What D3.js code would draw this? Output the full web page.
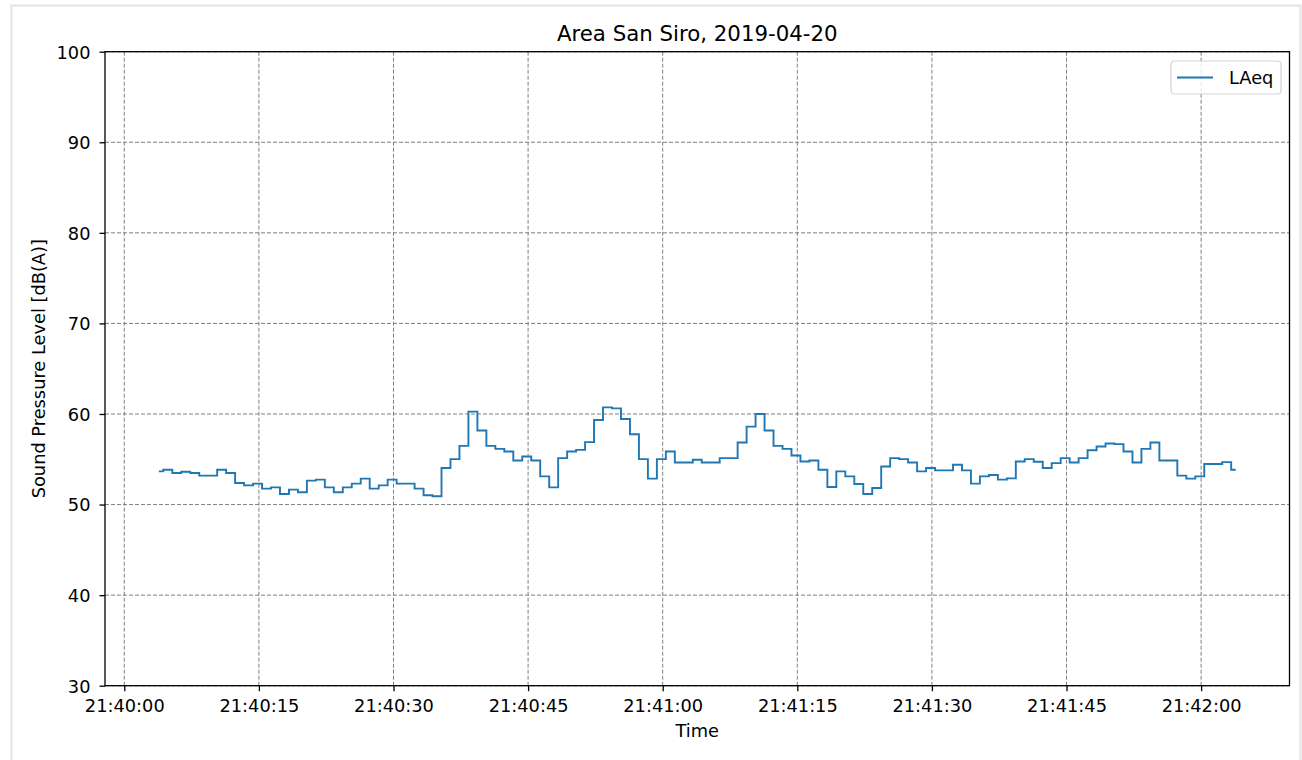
<!DOCTYPE html>
<html>
<head>
<meta charset="utf-8">
<script src="https://cdn.jsdelivr.net/npm/d3@7"></script>
<style>
  html, body { margin: 0; padding: 0; background: #fff; }
  svg { display: block; font-family: "DejaVu Sans", sans-serif; }
</style>
</head>
<body>
<svg id="chart" width="1302" height="760"></svg>
<script>
// ---- data ----
const title = "Area San Siro, 2019-04-20";
const seriesName = "LAeq";
const startTime = "2019-04-20T21:40:03.850";   // first sample
const stepSeconds = 1;
const laeq = [
  53.66, 53.85, 53.48, 53.63, 53.48, 53.19, 53.19, 53.85, 53.48, 52.38,
  52.12, 52.31, 51.76, 51.90, 51.17, 51.65, 51.36, 52.64, 52.75, 51.90,
  51.36, 51.90, 52.31, 52.86, 51.76, 52.12, 52.75, 52.31, 52.31, 51.76,
  51.03, 50.92, 54.03, 55.02, 56.48, 60.26, 58.17, 56.48, 56.15, 55.86,
  54.87, 55.31, 54.87, 53.11, 51.90, 55.13, 55.86, 56.04, 56.89, 59.34,
  60.73, 60.62, 59.45, 57.77, 55.02, 52.86, 55.02, 55.86, 54.65, 54.65,
  54.95, 54.65, 54.65, 55.13, 55.13, 56.85, 58.61, 60.00, 58.17, 56.48,
  56.15, 55.42, 54.76, 54.87, 53.85, 51.94, 53.66, 53.11, 52.27, 51.17,
  51.83, 54.21, 55.13, 55.02, 54.65, 53.66, 54.03, 53.77, 53.77, 54.40,
  53.77, 52.31, 53.11, 53.26, 52.75, 52.89, 54.76, 55.02, 54.73, 54.03,
  54.58, 55.13, 54.65, 55.13, 56.00, 56.41, 56.74, 56.67, 55.86, 54.65,
  56.15, 56.85, 54.87, 54.87, 53.19, 52.86, 53.11, 54.47, 54.47, 54.69,
  53.85
];
const xTickLabels = ["21:40:00","21:40:15","21:40:30","21:40:45","21:41:00","21:41:15","21:41:30","21:41:45","21:42:00"];
const yTicks = [30, 40, 50, 60, 70, 80, 90, 100];
const xLabel = "Time";
const yLabel = "Sound Pressure Level [dB(A)]";

// ---- build ----
const t0 = new Date(startTime);
const data = laeq.map((v, i) => ({ t: new Date(t0.getTime() + i * stepSeconds * 1000), v }));
const xTicks = xTickLabels.map(s => new Date("2019-04-20T" + s));

const svg = d3.select("#chart");
const m = { left: 105, right: 1289.5, top: 51.7, bottom: 685.7 };
const labelFont = "17.8px";

// figure frame (notebook output border)
svg.append("rect").attr("x", 11.5).attr("y", 5.5).attr("width", 1289).attr("height", 770)
  .attr("fill", "none").attr("stroke", "#e3e3e3").attr("stroke-width", 2);

const tExt = d3.extent(data, d => d.t);
const span = tExt[1] - tExt[0];
const x = d3.scaleTime()
  .domain([new Date(+tExt[0] - 0.05 * span), new Date(+tExt[1] + 0.05 * span)])
  .range([m.left, m.right]);
const y = d3.scaleLinear().domain([30, 100]).range([m.bottom, m.top]);

// grid
const grid = svg.append("g").attr("stroke", "#7f7f7f").attr("stroke-width", 1)
  .attr("stroke-dasharray", "4,2");
grid.selectAll("line.gx").data(xTicks).join("line")
  .attr("x1", d => x(d)).attr("x2", d => x(d))
  .attr("y1", m.top).attr("y2", m.bottom);
grid.selectAll("line.gy").data(yTicks).join("line")
  .attr("x1", m.left).attr("x2", m.right)
  .attr("y1", d => y(d)).attr("y2", d => y(d));

// step line (mid)
const line = d3.line().x(d => x(d.t)).y(d => y(d.v)).curve(d3.curveStep);
svg.append("path").datum(data)
  .attr("d", line)
  .attr("fill", "none").attr("stroke", "#1f77b4").attr("stroke-width", 1.9)
  .attr("stroke-linejoin", "miter").attr("stroke-linecap", "butt");

// axes
const fmt = d3.timeFormat("%H:%M:%S");
const xAxis = d3.axisBottom(x).tickValues(xTicks).tickFormat(fmt).tickSizeOuter(0).tickSize(5.5);
const yAxis = d3.axisLeft(y).tickValues(yTicks).tickFormat(d3.format("d")).tickSizeOuter(0).tickSize(5.5);

const gx = svg.append("g").attr("transform", `translate(0,${m.bottom})`).call(xAxis);
const gy = svg.append("g").attr("transform", `translate(${m.left},0)`).call(yAxis);
[gx, gy].forEach(g => {
  g.select(".domain").remove();
  g.selectAll(".tick line").attr("stroke", "#000").attr("stroke-width", 1.3);
  g.selectAll(".tick text").attr("fill", "#000").attr("font-size", labelFont)
    .attr("font-family", "DejaVu Sans, sans-serif");
});
gx.selectAll(".tick text").attr("y", 26.5).attr("dy", 0);
gy.selectAll(".tick text").attr("x", -14.5).attr("dy", "0.36em");

// spines
svg.append("rect").attr("x", m.left).attr("y", m.top)
  .attr("width", m.right - m.left).attr("height", m.bottom - m.top)
  .attr("fill", "none").attr("stroke", "#000").attr("stroke-width", 1.3);

// title & labels
svg.append("text").attr("x", (m.left + m.right) / 2).attr("y", 41)
  .attr("text-anchor", "middle").attr("font-size", "21.3px").attr("fill", "#000").text(title);
svg.append("text").attr("x", (m.left + m.right) / 2).attr("y", 737)
  .attr("text-anchor", "middle").attr("font-size", labelFont).attr("fill", "#000").text(xLabel);
svg.append("text").attr("transform", `translate(45,${(m.top + m.bottom) / 2}) rotate(-90)`)
  .attr("text-anchor", "middle").attr("font-size", labelFont).attr("fill", "#000").text(yLabel);

// legend
const lg = svg.append("g");
lg.append("rect").attr("x", 1171).attr("y", 61).attr("width", 110).attr("height", 33)
  .attr("rx", 3.5).attr("fill", "#fff").attr("fill-opacity", 0.8)
  .attr("stroke", "#d3d3d3").attr("stroke-width", 1.2);
lg.append("line").attr("x1", 1177).attr("x2", 1213).attr("y1", 77.5).attr("y2", 77.5)
  .attr("stroke", "#1f77b4").attr("stroke-width", 1.9);
lg.append("text").attr("x", 1229).attr("y", 84).attr("font-size", labelFont).attr("fill", "#000").text(seriesName);
</script>
</body>
</html>
